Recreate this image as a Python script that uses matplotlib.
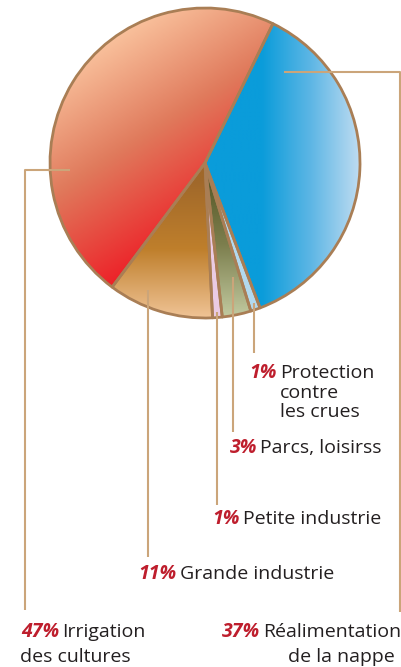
import numpy as np
import matplotlib.pyplot as plt
from matplotlib.colors import LinearSegmentedColormap
from matplotlib.patches import PathPatch

W, H = 401, 667

# slices, clockwise from the top-right boundary
shares = [37, 1, 3, 1, 11, 47]
pcts = ["37%", "1%", "3%", "1%", "11%", "47%"]
names = ["Réalimentation", "Protection\ncontre\nles crues", "Parcs, loisirss",
         "Petite industrie", "Grande industrie", "Irrigation"]
second_lines = ["de la nappe", None, None, None, None, "des cultures"]

fig = plt.figure(figsize=(W / 100, H / 100), dpi=100)
ax = fig.add_axes([0, 0, 1, 1])

def py(y):
    # picture rows go down, axes go up
    return H - y

cx, cy, r = 205, py(163), 155
edge = "#A97E55"
wedges, _ = ax.pie(shares, startangle=64, counterclock=False,
                   center=(cx, cy), radius=r,
                   colors=["#0099DB", "#B2D9EE", "#7E8050", "#EACBE3", "#C08030", "#E5563F"],
                   wedgeprops=dict(linewidth=0, zorder=1))

# gradients: (colours, start point, end point) in picture pixels
grads = {
    0: (["#0A9CDA", "#5DB6E5", "#BEDCF1"], (262, 0), (360, 0)),
    2: (["#575726", "#7D7F4E", "#C0C89E"], (0, 175), (0, 315)),
    4: (["#A0682A", "#BF7F2C", "#F0C496"], (0, 180), (0, 318)),
    5: (["#FDCCA6", "#E07A5C", "#EE1C25"], (70, 45), (195, 240)),
}

xs = np.linspace(0, W, 300)
ys = np.linspace(0, H, 500)
X, Y = np.meshgrid(xs, ys)
for i, (cols, p0, p1) in grads.items():
    a = np.array([p0[0], py(p0[1])], float)
    b = np.array([p1[0], py(p1[1])], float)
    d = b - a
    t = np.clip(((X - a[0]) * d[0] + (Y - a[1]) * d[1]) / (d @ d), 0, 1)
    cmap = LinearSegmentedColormap.from_list("g%d" % i, cols)
    im = ax.imshow(t, cmap=cmap, extent=(0, W, 0, H), origin="lower",
                   vmin=0, vmax=1, zorder=2, interpolation="bilinear", aspect="auto")
    im.set_clip_path(wedges[i])

# outlines on top
for w in wedges:
    ax.add_patch(PathPatch(w.get_path(), fill=False, edgecolor=edge,
                           linewidth=2, zorder=3, joinstyle="round"))

# leader lines, picture pixels
lead = "#CBA57A"
leaders = [
    [(284, 72), (400, 72), (400, 612)],
    [(254, 303), (254, 353)],
    [(233, 277), (233, 432)],
    [(217, 312), (217, 505)],
    [(148, 290), (148, 557)],
    [(70, 170), (25, 170), (25, 610)],
]
for pts in leaders:
    ax.plot([p[0] for p in pts], [py(p[1]) for p in pts], color=lead, lw=1.5,
            zorder=4, solid_capstyle="butt")

# labels: x where the name starts, baseline of the first line
label_pos = [(263, 637), (280, 378), (260, 453), (243, 524), (180, 579), (62, 637)]
font = "Open Sans"
fs = 14
line_h = 19.5
for i, (x, y) in enumerate(label_pos):
    ax.text(x - 3, py(y), pcts[i], ha="right", va="baseline", color="#BE1E2D",
            fontsize=fs, fontweight="bold", family=font, style="italic", zorder=5)
    for k, line in enumerate(names[i].split("\n")):
        ax.text(x, py(y + k * line_h), line, ha="left", va="baseline",
                color="#231F20", fontsize=fs, family=font, zorder=5)
ax.text(395, py(662), second_lines[0], ha="right", va="baseline", color="#231F20",
        fontsize=fs, family=font)
ax.text(20, py(662), second_lines[5], ha="left", va="baseline", color="#231F20",
        fontsize=fs, family=font)

ax.set_xlim(0, W)
ax.set_ylim(0, H)
ax.set_aspect("auto")
ax.axis("off")
fig.savefig("out.png", dpi=100)
